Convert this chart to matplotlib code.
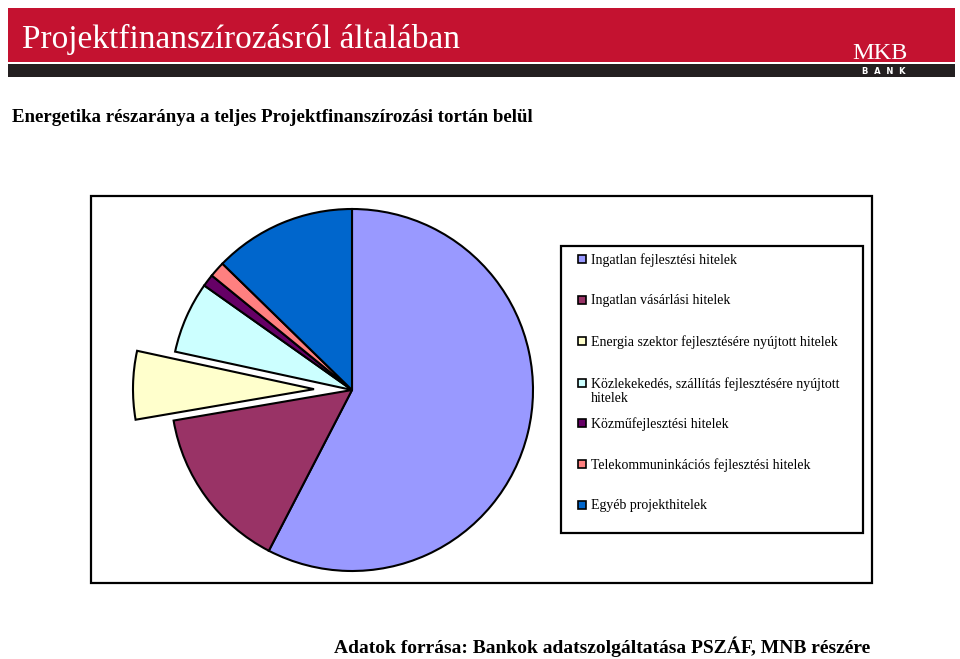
import matplotlib
matplotlib.use("Agg")
import matplotlib.pyplot as plt
from matplotlib.patches import Rectangle

# share of project financing portfolio, %
labels = [
    "Ingatlan fejlesztési hitelek",
    "Ingatlan vásárlási hitelek",
    "Energia szektor fejlesztésére nyújtott hitelek",
    "Közlekekedés, szállítás fejlesztésére nyújtott\nhitelek",
    "Közműfejlesztési hitelek",
    "Telekommuninkációs fejlesztési hitelek",
    "Egyéb projekthitelek",
]
shares = [57.6, 14.7, 6.1, 6.4, 1.1, 1.4, 12.7]
colors = ["#9999FF", "#993366", "#FFFFCC", "#CCFFFF", "#660066", "#FF8080", "#0066CC"]
explode = [0, 0, 0.21, 0, 0, 0, 0]

title = "Projektfinanszírozásról általában"
subtitle = "Energetika részaránya a teljes Projektfinanszírozási tortán belül"
source = "Adatok forrása: Bankok adatszolgáltatása PSZÁF, MNB részére"

serif = "Liberation Serif"
W, H = 960, 659

fig = plt.figure(figsize=(W / 100, H / 100), dpi=100)
bg = fig.add_axes([0, 0, 1, 1])
bg.set_xlim(0, W)
bg.set_ylim(H, 0)
bg.axis("off")

# header band
bg.add_patch(Rectangle((8, 8), 947, 54, color="#C41230", lw=0))
bg.add_patch(Rectangle((8, 64), 947, 13, color="#231F20", lw=0))
bg.text(22, 48, title, color="white", fontsize=24, family=serif, va="baseline")
bg.text(880, 59, "MKB", color="white", fontsize=17.5, family=serif, ha="center", va="baseline")
bg.text(884, 71, "B  A  N  K", color="white", fontsize=6, family="DejaVu Sans",
        weight="bold", ha="center", va="center")

bg.text(12, 117, subtitle, fontsize=13.6, family=serif, weight="bold", va="center")
bg.text(870, 647, source, fontsize=14, family=serif, weight="bold", ha="right", va="center")

# chart frame and legend frame
bg.add_patch(Rectangle((91, 196), 781, 387, fill=False, ec="black", lw=1.6))
bg.add_patch(Rectangle((561, 246), 302, 287, fill=False, ec="black", lw=1.6))

# pie: center (352, 390), radius 181 px
half = 220
pie_ax = fig.add_axes([(352 - half) / W, (H - 390 - half) / H, 2 * half / W, 2 * half / H])
pie_ax.pie(shares, colors=colors, explode=explode, startangle=90, counterclock=False,
           wedgeprops=dict(edgecolor="black", linewidth=1.5))
lim = half / 181
pie_ax.set_xlim(-lim, lim)
pie_ax.set_ylim(-lim, lim)
pie_ax.set_aspect("equal")
pie_ax.axis("off")

# legend entries
entry_y = [259, 300, 341, 383, 423, 464, 505]
for lab, col, y in zip(labels, colors, entry_y):
    bg.add_patch(Rectangle((578, y - 4), 8, 8, fc=col, ec="black", lw=1.2))
    bg.text(591, y - 6, lab, fontsize=10, family=serif, va="top", linespacing=1.15)

fig.savefig("out.png", dpi=100)
